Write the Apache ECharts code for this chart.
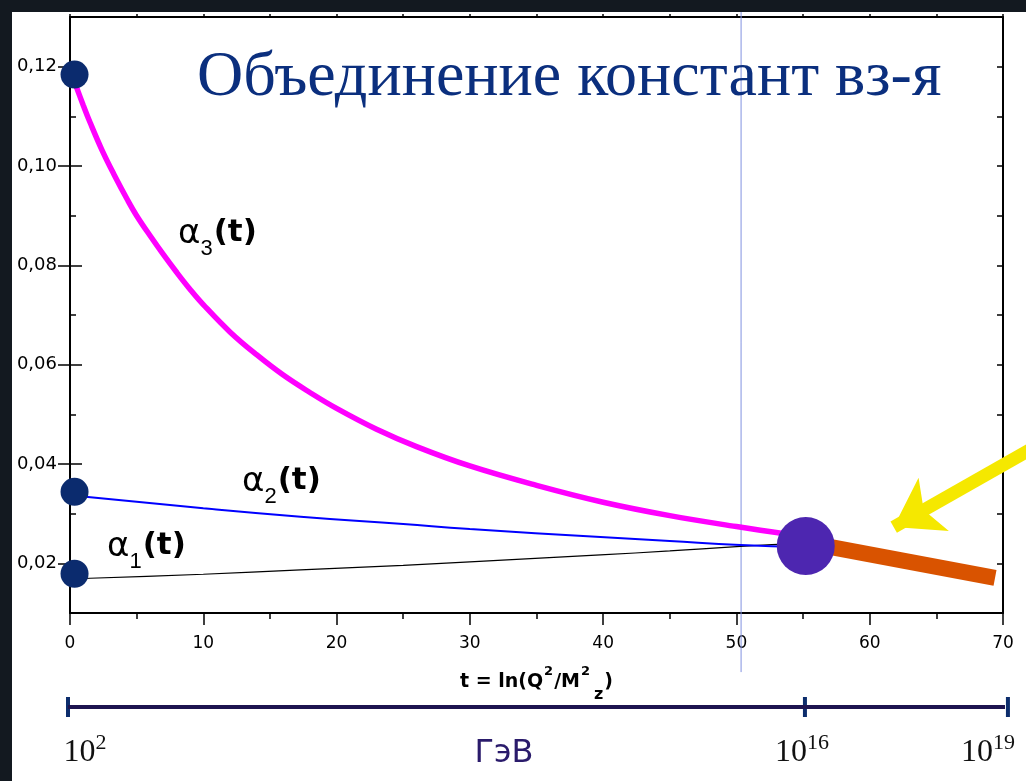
<!DOCTYPE html>
<html><head><meta charset="utf-8">
<script src="https://cdn.jsdelivr.net/npm/echarts@6/dist/echarts.min.js"></script>
<style>
html,body{margin:0;padding:0;background:#131920;width:1026px;height:781px;overflow:hidden;}
#bg{position:absolute;left:12px;top:12px;width:1014px;height:769px;background:#fff;}
#chart{position:absolute;left:0;top:0;width:1026px;height:781px;}
</style></head><body>
<div id="bg"></div><div id="chart"></div>
<script>
// ---- data ----
const T_A3 = [0.3, 1, 1.5, 2.4, 3.3, 4.35, 5, 6, 7, 8, 9, 10, 12, 14, 16, 18, 20, 23, 26, 30, 35, 40, 45, 50, 54];
const A3   = [0.1172, 0.1122, 0.1088, 0.1032, 0.0983, 0.0930, 0.0900, 0.0860, 0.0822, 0.0786, 0.0752, 0.0721, 0.0666, 0.0620, 0.0579, 0.0544, 0.0512, 0.0470, 0.0435, 0.0396, 0.0357, 0.0323, 0.0296, 0.0274, 0.0258];
const T_A2 = [0, 10, 17.3, 25, 30, 39.8, 45, 50.3, 55];
const A2   = [0.0337, 0.0311, 0.0294, 0.0279, 0.0269, 0.0253, 0.0245, 0.0237, 0.0233];
const T_A1 = [0, 1.5, 10, 17.3, 25, 30, 39.8, 45, 50.3, 55];
const A1   = [0.0168, 0.0170, 0.0178, 0.0187, 0.0196, 0.0203, 0.0217, 0.0225, 0.0234, 0.0240];
const START_T = [0.34, 0.34, 0.34];
const START_A = [0.1184, 0.0344, 0.0179];
const GUT_T = [55.2];
const GUT_A = [0.0235];
const SUSY_T = [56, 69.4];
const SUSY_A = [0.0238, 0.01705];
const ARROW_T = [72.5, 61.8];
const ARROW_A = [0.0436, 0.0273];
const MARK_T = [50.35, 50.35];
const MARK_A = [0.131, -0.0019];
const ENERGY_T = [-0.15, 55.14, 70.37];
const ENERGY_EXP = ['2', '16', '19'];
const ENERGY_SHIFT = [17, -3, -20];
const X_TICKS = {min: 0, max: 70, step: 10};
const Y_TICKS = {min: 0.01, max: 0.13, step: 0.01};
const TITLE = 'Объединение констант вз-я';
const UNIT = 'ГэВ';

const zip = (a, b) => a.map((v, i) => [v, b[i]]);
const SANS = '"Liberation Sans", Arial, Helvetica, sans-serif';
const WIDE = '"DejaVu Sans", Verdana, sans-serif';
const SERIF = '"Liberation Serif", "Times New Roman", serif';
const blk = {color: '#000', width: 2};
const tk = {color: '#000', width: 1.5};

function yFmt(v) {
  const k = Math.round(v * 100);
  return k % 2 === 0 ? (k / 100).toFixed(2).replace('.', ',') : '';
}
function yAxisPair(pos, withLabels) {
  return [
    {type: 'value', gridIndex: 0, position: pos, min: Y_TICKS.min, max: Y_TICKS.max, interval: Y_TICKS.step,
     axisLine: {show: true, onZero: false, lineStyle: blk},
     axisTick: {show: true, inside: true, length: 6, lineStyle: tk},
     minorTick: {show: false}, splitLine: {show: false},
     axisLabel: {show: withLabels, formatter: yFmt, color: '#000', fontSize: 18, fontFamily: WIDE, margin: 13, padding: [4, 0, 0, 0]}},
    {type: 'value', gridIndex: 0, position: pos, min: Y_TICKS.min, max: Y_TICKS.max, interval: Y_TICKS.step * 2,
     axisLine: {show: false}, axisTick: {show: false, inside: true},
     minorTick: {show: true, splitNumber: 2, length: 12, lineStyle: tk},
     splitLine: {show: false}, axisLabel: {show: false}}
  ];
}

const chart = echarts.init(document.getElementById('chart'), null, {renderer: 'canvas'});
const subLbl = (n) => ({
  text: '{a|α}{s|' + n + '}{p|(t)}',
  rich: {
    a: {fontFamily: WIDE, fontSize: 34, lineHeight: 36, verticalAlign: 'top', fill: '#000'},
    s: {fontFamily: SANS, fontSize: 22, lineHeight: 22, padding: [21, 1, 0, 0], verticalAlign: 'top', fill: '#000'},
    p: {fontFamily: WIDE, fontSize: 31, fontWeight: 'bold', lineHeight: 36, verticalAlign: 'top', fill: '#000'}
  },
  align: 'left', verticalAlign: 'top'
});

const option = {
  animation: false,
  backgroundColor: 'transparent',
  grid: [
    {left: 70, right: 23, top: 17, bottom: 168, outerBoundsMode: 'none', containLabel: false},
    {left: 70, right: 23, top: 697, height: 20, outerBoundsMode: 'none', containLabel: false}
  ],
  xAxis: [
    {type: 'value', gridIndex: 0, position: 'bottom', min: X_TICKS.min, max: X_TICKS.max, interval: X_TICKS.step,
     axisLine: {show: true, onZero: false, lineStyle: blk},
     axisTick: {show: true, inside: false, length: 12, lineStyle: tk},
     minorTick: {show: true, splitNumber: 2, length: 6, lineStyle: tk},
     splitLine: {show: false},
     axisLabel: {color: '#000', fontSize: 17, fontFamily: WIDE, margin: 22},
     name: '{m|t = ln(Q}{sup|2}{m|/M}{sup|2}{sub|z}{m|)}',
     nameLocation: 'middle', nameGap: 52,
     nameTextStyle: {
       rich: {
         m: {fontFamily: WIDE, fontSize: 19, fontWeight: 'bold', color: '#000', lineHeight: 24, padding: [8, 0, 0, 0], verticalAlign: 'top'},
         sup: {fontFamily: WIDE, fontSize: 13, fontWeight: 'bold', color: '#000', lineHeight: 14, verticalAlign: 'top', padding: [0, 1, 0, 1]},
         sub: {fontFamily: WIDE, fontSize: 16, fontWeight: 'bold', color: '#000', lineHeight: 16, padding: [22, 1, 0, 3], verticalAlign: 'top'}
       }
     }},
    {type: 'value', gridIndex: 0, position: 'top', min: X_TICKS.min, max: X_TICKS.max, interval: X_TICKS.step,
     axisLine: {show: true, onZero: false, lineStyle: blk},
     axisTick: {show: true, inside: false, length: 3, lineStyle: tk},
     minorTick: {show: true, splitNumber: 2, length: 3, lineStyle: tk},
     splitLine: {show: false}, axisLabel: {show: false}},
    {type: 'value', gridIndex: 1, min: X_TICKS.min, max: X_TICKS.max, show: false}
  ],
  yAxis: [
    ...yAxisPair('left', true),
    ...yAxisPair('right', false),
    {type: 'value', gridIndex: 1, min: -1, max: 1, show: false}
  ],
  series: [
    {type: 'line', name: 'mark', xAxisIndex: 0, yAxisIndex: 0, data: zip(MARK_T, MARK_A), symbol: 'none', clip: false, silent: true, z: 1,
     lineStyle: {color: '#8091e0', width: 1}},
    {type: 'line', name: 'α1', xAxisIndex: 0, yAxisIndex: 0, data: zip(T_A1, A1), symbol: 'none', smooth: true, z: 2,
     lineStyle: {color: '#000', width: 1.2}},
    {type: 'line', name: 'α2', xAxisIndex: 0, yAxisIndex: 0, data: zip(T_A2, A2), symbol: 'none', smooth: true, z: 2,
     lineStyle: {color: '#0000ff', width: 2}},
    {type: 'line', name: 'α3', xAxisIndex: 0, yAxisIndex: 0, data: zip(T_A3, A3), symbol: 'none', smooth: 0.4, z: 3,
     lineStyle: {color: '#ff00ff', width: 5.5}},
    {type: 'line', name: 'susy', xAxisIndex: 0, yAxisIndex: 0, data: zip(SUSY_T, SUSY_A), symbol: 'none', clip: false, z: 4,
     lineStyle: {color: '#d95300', width: 16, cap: 'butt'}},
    {type: 'lines', name: 'arrow', coordinateSystem: 'cartesian2d', xAxisIndex: 0, yAxisIndex: 0, clip: false, z: 5,
     symbol: ['none', 'arrow'], symbolSize: [34, 46],
     lineStyle: {color: '#f5e800', width: 13, opacity: 1, curveness: 0},
     data: [{coords: zip(ARROW_T, ARROW_A)}]},
    {type: 'scatter', name: 'start', xAxisIndex: 0, yAxisIndex: 0, data: zip(START_T, START_A), symbol: 'circle', symbolSize: 28, clip: false, z: 6,
     itemStyle: {color: '#0b2b6e', opacity: 1}},
    {type: 'scatter', name: 'gut', xAxisIndex: 0, yAxisIndex: 0, data: zip(GUT_T, GUT_A), symbol: 'circle', symbolSize: 58, clip: false, z: 6,
     itemStyle: {color: '#4d26b0', opacity: 1}},
    {type: 'line', name: 'energyBar', xAxisIndex: 2, yAxisIndex: 4, data: [[ENERGY_T[0], 0], [ENERGY_T[2], 0]], symbol: 'none', clip: false,
     lineStyle: {color: '#1d1450', width: 4}},
    {type: 'scatter', name: 'energyTicks', xAxisIndex: 2, yAxisIndex: 4, clip: false, symbol: 'rect', symbolSize: [4, 20],
     itemStyle: {color: '#0c2d6c', opacity: 1},
     data: ENERGY_T.map((t, i) => ({value: [t, 0], label: {offset: [ENERGY_SHIFT[i], 0], formatter: '{m|10}{sup|' + ENERGY_EXP[i] + '}'}})),
     label: {show: true, position: 'bottom', distance: 15,
       rich: {
         m: {fontFamily: SERIF, fontSize: 32, color: '#111', lineHeight: 34, padding: [5, 0, 0, 0], verticalAlign: 'top'},
         sup: {fontFamily: SERIF, fontSize: 22, color: '#111', lineHeight: 22, verticalAlign: 'top'}
       }}}
  ],
  graphic: [
    {type: 'text', x: 197, y: 78, z: 10, style: {text: TITLE, font: '64px ' + SERIF, fill: '#0b2f7e', align: 'left', verticalAlign: 'middle'}},
    {type: 'text', x: 504, y: 754, z: 10, style: {text: UNIT, font: '32px ' + WIDE, fill: '#2a1b6b', align: 'center', verticalAlign: 'middle'}},
    {type: 'text', x: 178, y: 217, z: 10, style: subLbl('3')},
    {type: 'text', x: 242, y: 465, z: 10, style: subLbl('2')},
    {type: 'text', x: 107, y: 530, z: 10, style: subLbl('1')}
  ]
};
chart.setOption(option);
</script>
</body></html>
